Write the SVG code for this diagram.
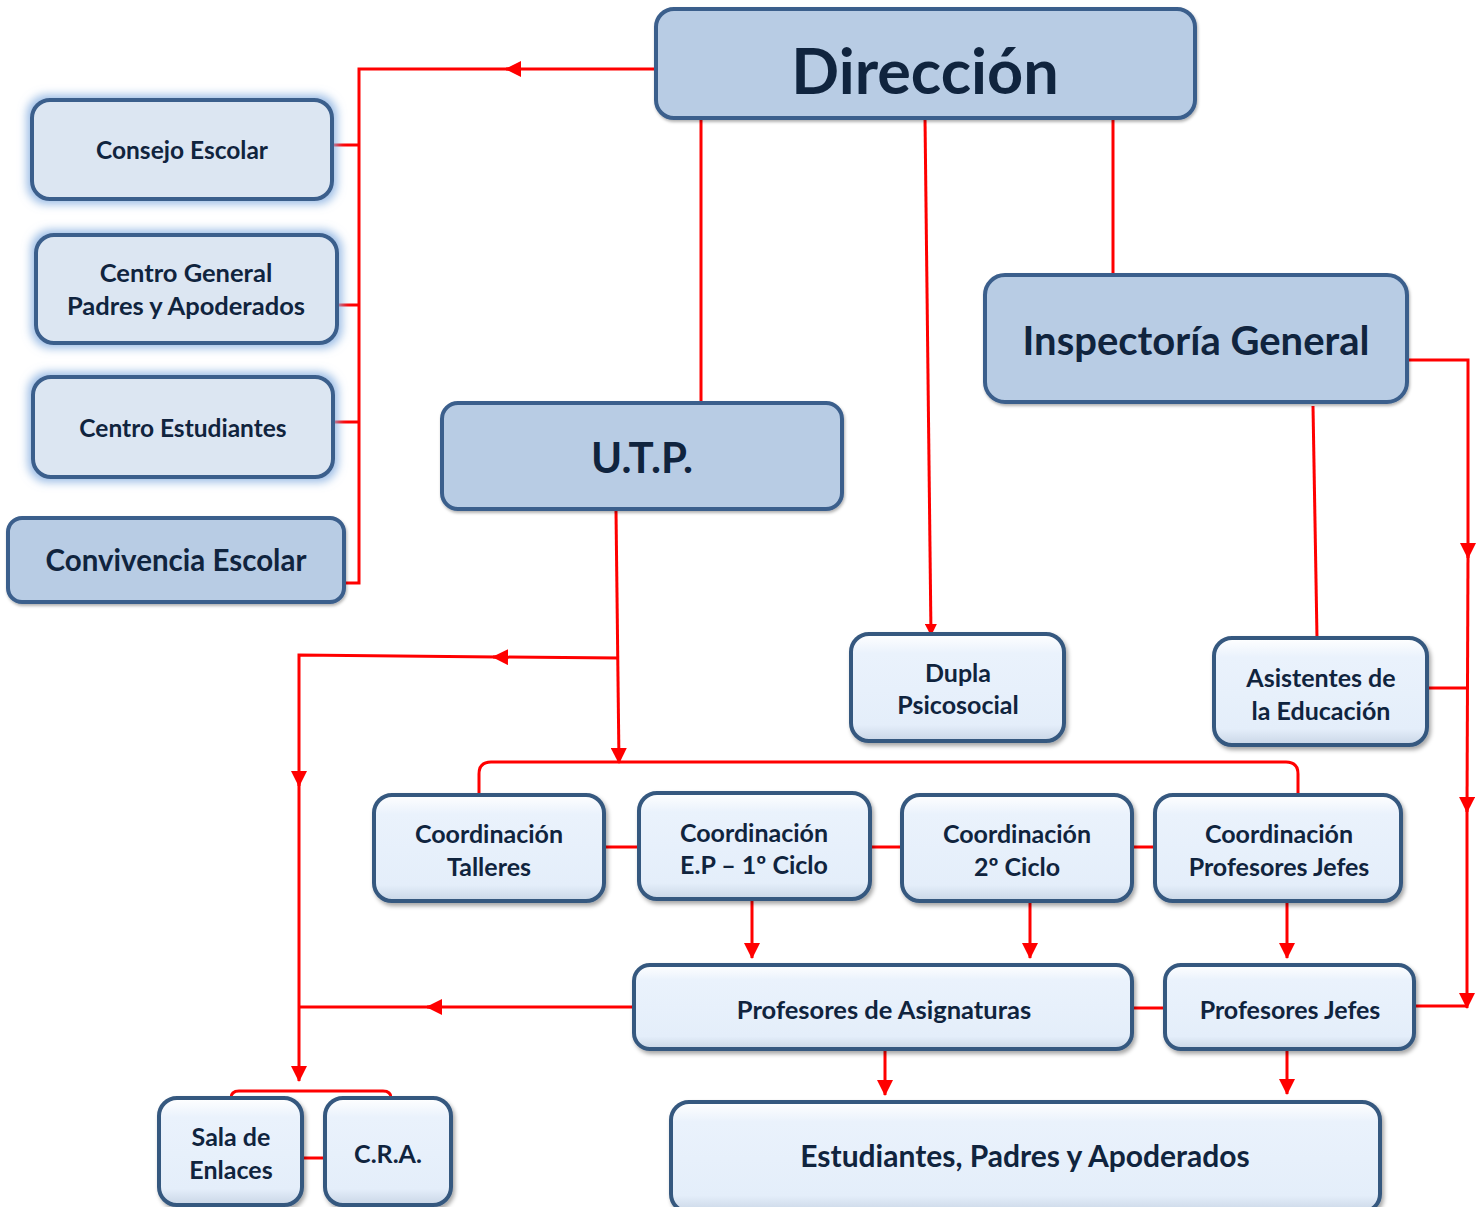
<svg xmlns="http://www.w3.org/2000/svg" width="1484" height="1207" viewBox="0 0 1484 1207">
<defs>
<linearGradient id="lightFill" x1="0" y1="0" x2="0" y2="1">
<stop offset="0" stop-color="#ffffff"/>
<stop offset="0.18" stop-color="#eaf2fc"/>
<stop offset="0.85" stop-color="#e4eefa"/>
<stop offset="1" stop-color="#c9d6e6"/>
</linearGradient>
<filter id="shadow" x="-10%" y="-10%" width="125%" height="130%">
<feDropShadow dx="2" dy="3" stdDeviation="2" flood-color="#000" flood-opacity="0.35"/>
</filter>
<filter id="glow" x="-15%" y="-20%" width="130%" height="140%">
<feMorphology in="SourceAlpha" operator="dilate" radius="3" result="d"/>
<feGaussianBlur in="d" stdDeviation="5" result="b"/>
<feFlood flood-color="#8db3e2" flood-opacity="0.9"/>
<feComposite in2="b" operator="in" result="g"/>
<feMerge><feMergeNode in="g"/><feMergeNode in="SourceGraphic"/></feMerge>
</filter>
<filter id="inner" x="-5%" y="-5%" width="110%" height="115%">
<feDropShadow dx="1" dy="2" stdDeviation="1.5" flood-color="#000" flood-opacity="0.3"/>
</filter>
<marker id="arr" markerUnits="userSpaceOnUse" markerWidth="16" markerHeight="16" refX="15" refY="8" orient="auto" viewBox="0 0 16 16">
<path d="M0,0 L16,8 L0,16 z" fill="#ff0000"/>
</marker>
<marker id="arrS" markerUnits="userSpaceOnUse" markerWidth="12" markerHeight="12" refX="11" refY="6" orient="auto" viewBox="0 0 12 12">
<path d="M0,0 L12,6 L0,12 z" fill="#ff0000"/>
</marker>
</defs>
<style>
.dark{fill:#b8cce4;stroke:#3b5e8c;stroke-width:4}
.glowbox{fill:#dce6f2;stroke:#3b5e8c;stroke-width:4}
.light{fill:url(#lightFill);stroke:#36587f;stroke-width:4}
text{font-family:Lato,"Liberation Sans",sans-serif;font-weight:bold;fill:#10243e;text-anchor:middle}
.t24{font-size:24.5px}
.t23{font-size:25px}
.c{fill:none;stroke:#ff0000;stroke-width:3}
</style>

<g id="connectors">
<path class="c" d="M656,69 L506,69" marker-end="url(#arr)"/>
<path class="c" d="M510,69 L359,69 L359,583 L344,583"/>
<path class="c" d="M359,145 L332,145"/>
<path class="c" d="M359,305 L337,305"/>
<path class="c" d="M359,422 L333,422"/>
<path class="c" d="M701,118 L701,403"/>
<path class="c" d="M925,118 L931,635" marker-end="url(#arrS)"/>
<path class="c" d="M1113,118 L1113,275"/>
<path class="c" d="M1407,360 L1468,360 L1468,558" marker-end="url(#arr)"/>
<path class="c" d="M1468,555 L1467,812" marker-end="url(#arr)"/>
<path class="c" d="M1467,809 L1467,1008" marker-end="url(#arr)"/>
<path class="c" d="M1467,1006 L1414,1006"/>
<path class="c" d="M1427,688 L1468,688"/>
<path class="c" d="M1313,406 L1317,638"/>
<path class="c" d="M616,511 L619,763" marker-end="url(#arr)"/>
<path class="c" d="M619,658 L493,657" marker-end="url(#arr)"/>
<path class="c" d="M497,657 L299,655 L299,786" marker-end="url(#arr)"/>
<path class="c" d="M299,783 L299,1081" marker-end="url(#arr)"/>
<path class="c" d="M479,795 L479,774 Q479,762 491,762 L1286,762 Q1298,762 1298,774 L1298,795"/>
<path class="c" d="M604,847 L639,847"/>
<path class="c" d="M870,847 L902,847"/>
<path class="c" d="M1132,847 L1155,847"/>
<path class="c" d="M752,901 L752,958" marker-end="url(#arr)"/>
<path class="c" d="M1030,903 L1030,958" marker-end="url(#arr)"/>
<path class="c" d="M1287,903 L1287,958" marker-end="url(#arr)"/>
<path class="c" d="M634,1007 L427,1007" marker-end="url(#arr)"/>
<path class="c" d="M431,1007 L299,1007"/>
<path class="c" d="M1132,1008 L1165,1008"/>
<path class="c" d="M885,1049 L885,1095" marker-end="url(#arr)"/>
<path class="c" d="M1287,1049 L1287,1094" marker-end="url(#arr)"/>
<path class="c" d="M231,1098 L231,1098 Q231,1091 239,1091 L383,1091 Q391,1091 391,1098"/>
<path class="c" d="M302,1158 L325,1158"/>
</g>

<g id="direccion">
<rect class="dark" x="656" y="9" width="539" height="109" rx="18" filter="url(#inner)"/>
<text x="925" y="94" style="font-size:63px">Dirección</text>
</g>
<g id="consejo-escolar">
<rect class="glowbox" x="32" y="100" width="300" height="99" rx="18" filter="url(#glow)"/>
<text class="t24" x="182" y="159">Consejo Escolar</text>
</g>
<g id="centro-general">
<rect class="glowbox" x="36" y="235" width="301" height="108" rx="18" filter="url(#glow)"/>
<text class="t24" x="186" y="282" style="font-size:25.5px">Centro General</text>
<text class="t24" x="186" y="315" style="font-size:25.5px">Padres y Apoderados</text>
</g>
<g id="centro-estudiantes">
<rect class="glowbox" x="33" y="377" width="300" height="100" rx="18" filter="url(#glow)"/>
<text class="t24" x="183" y="437">Centro Estudiantes</text>
</g>
<g id="convivencia-escolar">
<rect class="dark" x="8" y="518" width="336" height="84" rx="14" filter="url(#inner)"/>
<text x="176" y="571" style="font-size:29.5px">Convivencia Escolar</text>
</g>
<g id="utp">
<rect class="dark" x="442" y="403" width="400" height="106" rx="16" filter="url(#inner)"/>
<text x="642" y="473" style="font-size:42px">U.T.P.</text>
</g>
<g id="inspectoria">
<rect class="dark" x="985" y="275" width="422" height="127" rx="20" filter="url(#inner)"/>
<text x="1196" y="355" style="font-size:40px">Inspectoría General</text>
</g>
<g id="dupla">
<rect class="light" x="851" y="634" width="213" height="107" rx="18" filter="url(#shadow)"/>
<text class="t23" x="958" y="682">Dupla</text>
<text class="t23" x="958" y="714">Psicosocial</text>
</g>
<g id="asistentes">
<rect class="light" x="1214" y="638" width="213" height="107" rx="18" filter="url(#shadow)"/>
<text class="t23" x="1321" y="687">Asistentes de</text>
<text class="t23" x="1321" y="720">la Educación</text>
</g>
<g id="coord-talleres">
<rect class="light" x="374" y="795" width="230" height="106" rx="18" filter="url(#shadow)"/>
<text class="t23" x="489" y="843">Coordinación</text>
<text class="t23" x="489" y="876">Talleres</text>
</g>
<g id="coord-ep">
<rect class="light" x="639" y="793" width="231" height="106" rx="18" filter="url(#shadow)"/>
<text class="t23" x="754" y="842">Coordinación</text>
<text class="t23" x="754" y="874">E.P – 1º Ciclo</text>
</g>
<g id="coord-2ciclo">
<rect class="light" x="902" y="795" width="230" height="106" rx="18" filter="url(#shadow)"/>
<text class="t23" x="1017" y="843">Coordinación</text>
<text class="t23" x="1017" y="876">2º Ciclo</text>
</g>
<g id="coord-profjefes">
<rect class="light" x="1155" y="795" width="246" height="106" rx="18" filter="url(#shadow)"/>
<text class="t23" x="1279" y="843">Coordinación</text>
<text class="t23" x="1279" y="876">Profesores Jefes</text>
</g>
<g id="prof-asignaturas">
<rect class="light" x="634" y="965" width="498" height="84" rx="16" filter="url(#shadow)"/>
<text class="t23" x="884" y="1019" style="font-size:25.5px">Profesores de Asignaturas</text>
</g>
<g id="prof-jefes">
<rect class="light" x="1165" y="965" width="249" height="84" rx="16" filter="url(#shadow)"/>
<text class="t23" x="1290" y="1019">Profesores Jefes</text>
</g>
<g id="estudiantes">
<rect class="light" x="671" y="1102" width="709" height="110" rx="18" filter="url(#shadow)"/>
<text x="1025" y="1167" style="font-size:30px">Estudiantes, Padres y Apoderados</text>
</g>
<g id="sala-enlaces">
<rect class="light" x="159" y="1098" width="143" height="107" rx="18" filter="url(#shadow)"/>
<text class="t23" x="231" y="1146">Sala de</text>
<text class="t23" x="231" y="1179">Enlaces</text>
</g>
<g id="cra">
<rect class="light" x="325" y="1098" width="126" height="107" rx="18" filter="url(#shadow)"/>
<text class="t23" x="388" y="1163">C.R.A.</text>
</g>
</svg>
